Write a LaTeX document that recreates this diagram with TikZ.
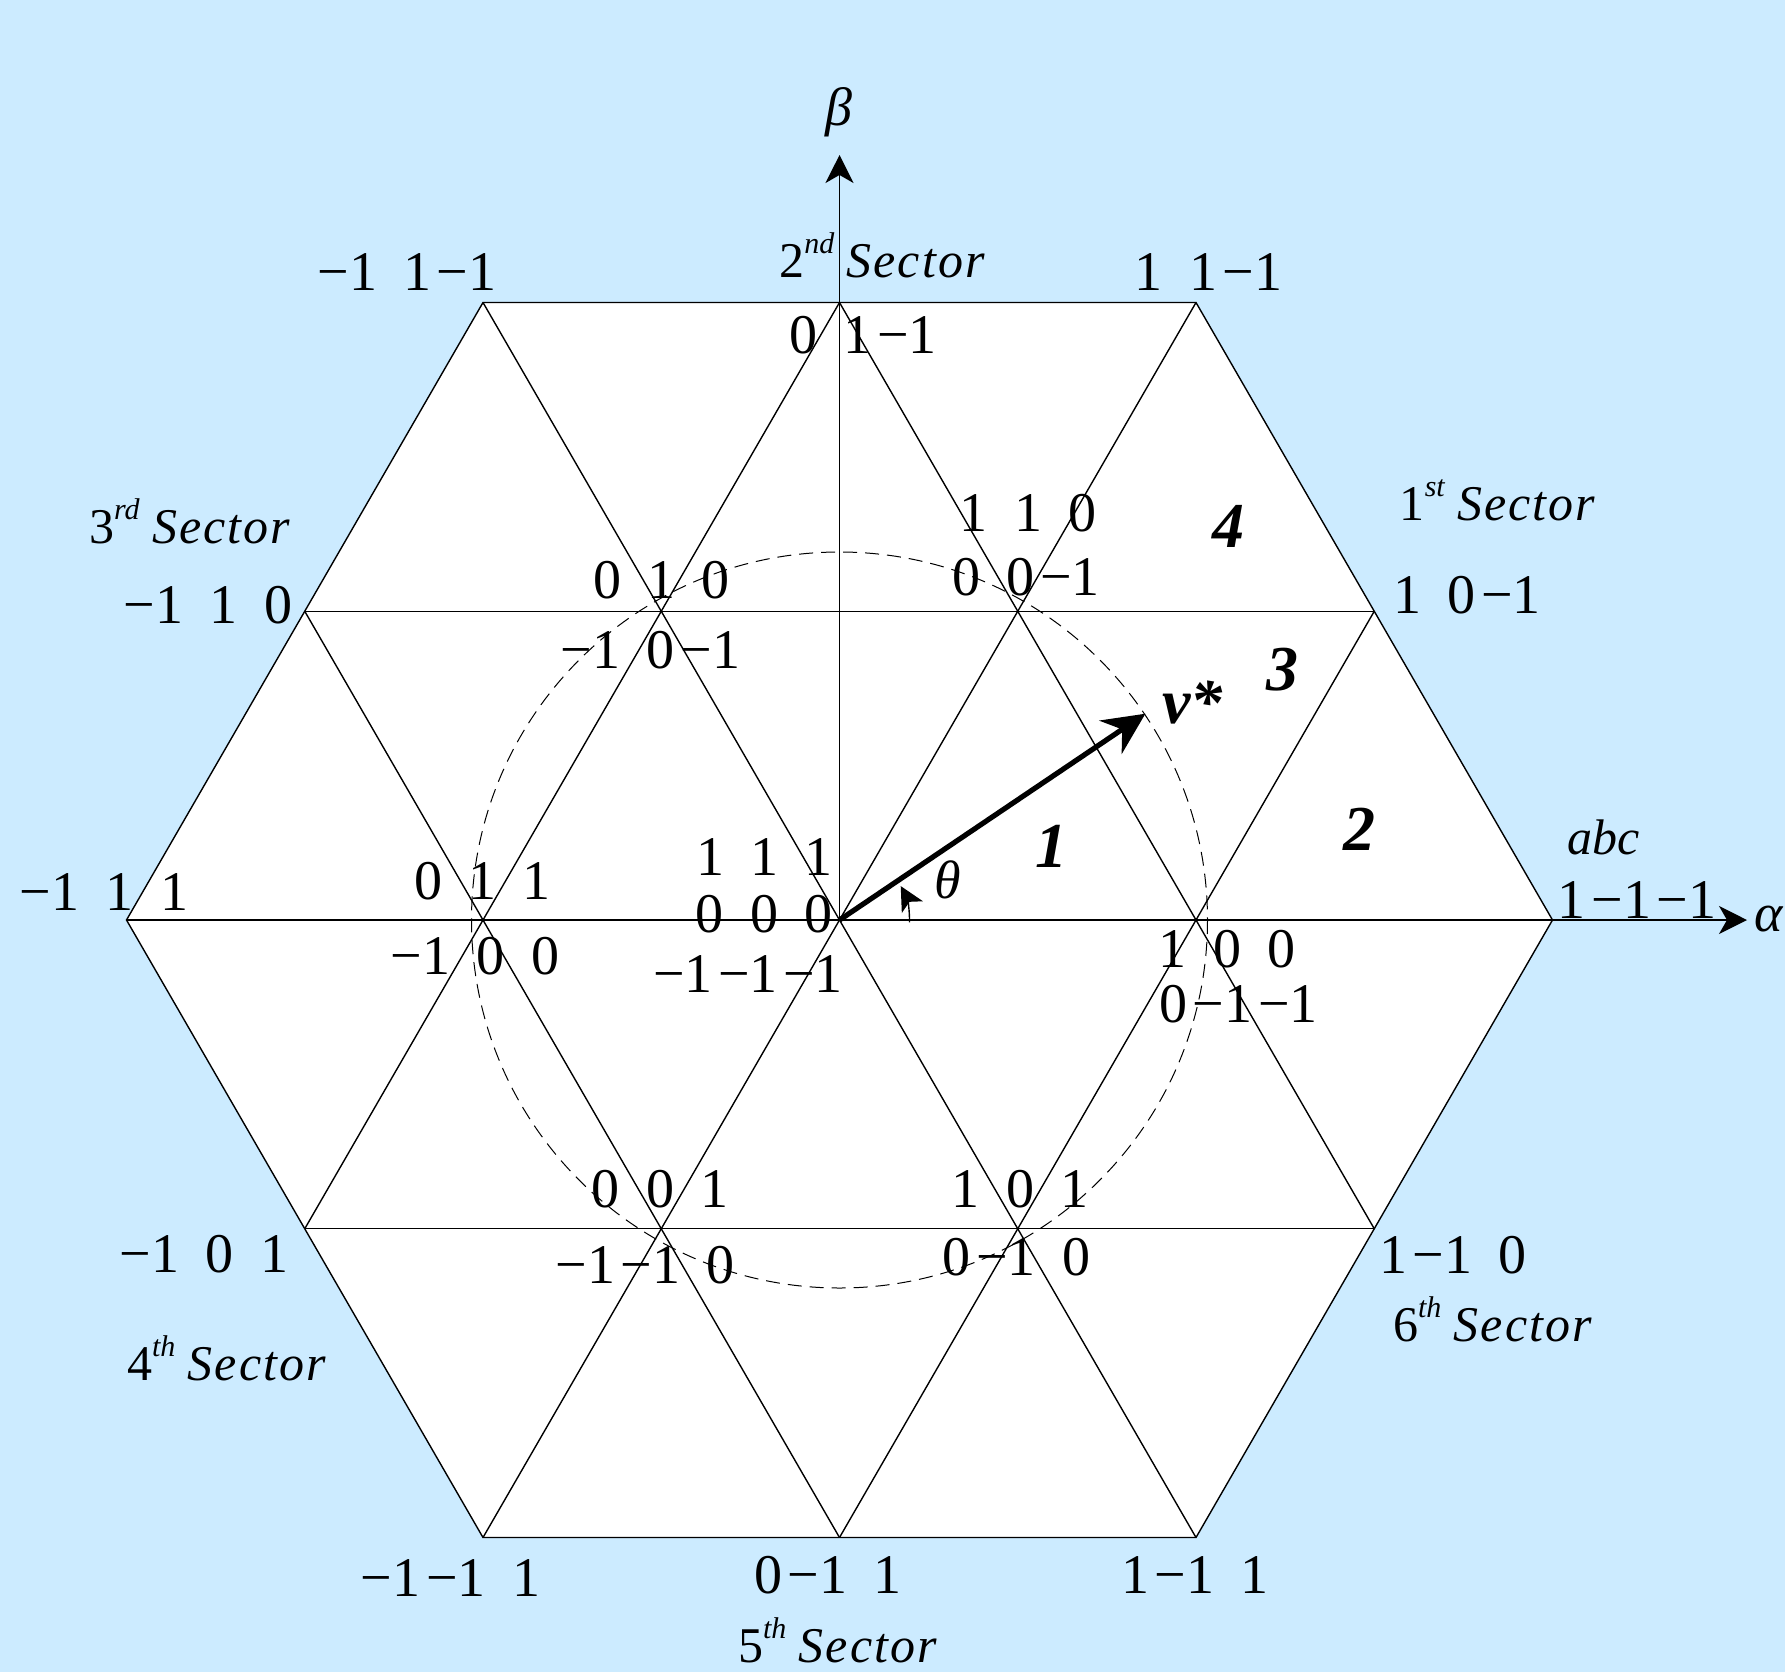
\documentclass[tikz,border=0pt]{standalone}
\usepackage{fontspec}
\setmainfont{Liberation Serif}
\usetikzlibrary{arrows.meta}
\definecolor{bgblue}{RGB}{204,235,255}
\newcommand\gp{\hspace{0.47em}}
\newcommand\mns{\kern0.1em −}
\newcommand\Sec{\textit{S\kern.04em e\kern.04em c\kern.04em t\kern.04em o\kern.04em r}}
\newcommand\sectlab[2]{#1\raisebox{0.47em}{\fontsize{15}{15}\selectfont\itshape #2}\ \Sec}
\tikzset{
  gridline/.style={line width=0.7pt},
  axisarrow/.style={line width=0.7pt,-{Stealth[length=14pt,width=14pt,inset=4pt]}},
  num/.style={inner sep=0pt,anchor=base,font=\fontsize{28}{28}\selectfont},
  sect/.style={inner sep=0pt,anchor=base,font=\fontsize{25}{25}\selectfont},
  reg/.style={inner sep=0pt,anchor=base,font=\fontsize{32}{32}\selectfont\bfseries\itshape},
  sym/.style={inner sep=0pt,anchor=base,font=\fontsize{27}{27}\selectfont\itshape},
}
\begin{document}
\begin{tikzpicture}[x=0.5pt,y=-0.5pt]
\useasboundingbox (0,0) rectangle (1785,1672);
\fill[bgblue] (0,0) rectangle (1785,1672);
% key points
\coordinate (C) at (839.5,920);
\coordinate (V0) at (1552.5,920);
\coordinate (V60) at (1196,302.5);
\coordinate (V120) at (483,302.5);
\coordinate (V180) at (126.5,920);
\coordinate (V240) at (483,1537.5);
\coordinate (V300) at (1196,1537.5);
\coordinate (Etop) at (839.5,302.5);
\coordinate (Ebot) at (839.5,1537.5);
\coordinate (EUR) at (1374.25,611.25);
\coordinate (EUL) at (304.75,611.25);
\coordinate (ELR) at (1374.25,1228.75);
\coordinate (ELL) at (304.75,1228.75);
\coordinate (Atip) at (1747,920);
\coordinate (Btip) at (839.5,155);
\coordinate (Vtip) at (1145.4,713.7);
% hexagon
\filldraw[fill=white,gridline] (V0) -- (V60) -- (V120) -- (V180) -- (V240) -- (V300) -- cycle;
% grid
\draw[gridline] (EUL) -- (EUR);
\draw[gridline] (ELL) -- (ELR);
\draw[gridline] (V240) -- (V60);
\draw[gridline] (V300) -- (V120);
\draw[gridline] (Ebot) -- (EUR);
\draw[gridline] (ELL) -- (Etop);
\draw[gridline] (ELR) -- (Etop);
\draw[gridline] (Ebot) -- (EUL);
% circle
\draw[line width=0.5pt,dash pattern=on 7pt off 4pt] (C) circle[radius=368];
% axes
\draw[axisarrow] (V180) -- (Atip);
\draw[axisarrow] (C) -- (Btip);
% reference vector
\draw[line width=2.6pt,-{Stealth[length=21pt,width=20pt,inset=7pt]}] (C) -- (Vtip);
% theta arc
\draw[line width=0.7pt,-{Stealth[length=12pt,width=12pt,inset=3pt]}] (C) ++(2:70) arc[start angle=2,end angle=-29,radius=70];
% switching states
\node[num] (t1) at (407,290) {−1\gp 1\mns 1};
\node[num] (t2) at (1208.5,290) {1\gp 1\mns 1};
\node[num] (t3) at (863,353) {0\gp 1\mns 1};
\node[num] (t4) at (208,623) {−1\gp 1\gp 0};
\node[num] (t5) at (1467,613) {1\gp 0\mns 1};
\node[num] (t6) at (1028,531) {1\gp 1\gp 0};
\node[num] (t7) at (1026,595) {0\gp 0\mns 1};
\node[num] (t8) at (661.5,598) {0\gp 1\gp 0};
\node[num] (t9) at (650.5,668) {−1\gp 0\mns 1};
\node[num] (t10) at (764.5,875) {1\gp 1\gp 1};
\node[num] (t11) at (764,932) {0\gp 0\gp 0};
\node[num] (t12) at (748,992) {−1\mns 1\mns 1};
\node[num] (t13) at (482.5,899) {0\gp 1\gp 1};
\node[num] (t14) at (104,910) {−1\gp 1\gp 1};
\node[num] (t15) at (475,974) {−1\gp 0\gp 0};
\node[num] (t16) at (1637,918) {1\mns 1\mns 1};
\node[num] (t17) at (1227,967) {1\gp 0\gp 0};
\node[num] (t18) at (1238.5,1022) {0\mns 1\mns 1};
\node[num] (t19) at (660,1207) {0\gp 0\gp 1};
\node[num] (t20) at (1020,1207) {1\gp 0\gp 1};
\node[num] (t21) at (204,1272) {−1\gp 0\gp 1};
\node[num] (t22) at (645,1283) {−1\mns 1\gp 0};
\node[num] (t23) at (1016.5,1275) {0\mns 1\gp 0};
\node[num] (t24) at (1453,1273) {1\mns 1\gp 0};
\node[num] (t25) at (450.5,1596) {−1\mns 1\gp 1};
\node[num] (t26) at (828,1593) {0\mns 1\gp 1};
\node[num] (t27) at (1195,1593) {1\mns 1\gp 1};
% sectors
\node[sect] (s1) at (1497.5,520) {\sectlab{1}{st}};
\node[sect] (s2) at (882,277) {\sectlab{2}{nd}};
\node[sect] (s3) at (189.5,543) {\sectlab{3}{rd}};
\node[sect] (s4) at (226.5,1380) {\sectlab{4}{th}};
\node[sect,text depth=0pt] (s5) at (837.5,1662) {\sectlab{5}{th}};
\node[sect] (s6) at (1492.5,1341) {\sectlab{6}{th}};
% regions
\node[reg] (r1) at (1051.5,867) {1};
\node[reg] (r2) at (1359.5,850) {2};
\node[reg] (r3) at (1282.5,690) {3};
\node[reg] (r4) at (1228,547) {4};
\node[reg] (vstar) at (1192.5,723) {v*};
% symbols
\node[sym] (theta) at (947.5,898) {θ};
\node[sym] (beta) at (838.5,125) {β};
\node[sym] (alpha) at (1768.5,931) {α};
\node[sect,font=\fontsize{25}{25}\selectfont\itshape] (abc) at (1603.5,854) {abc};
\end{tikzpicture}
\end{document}
